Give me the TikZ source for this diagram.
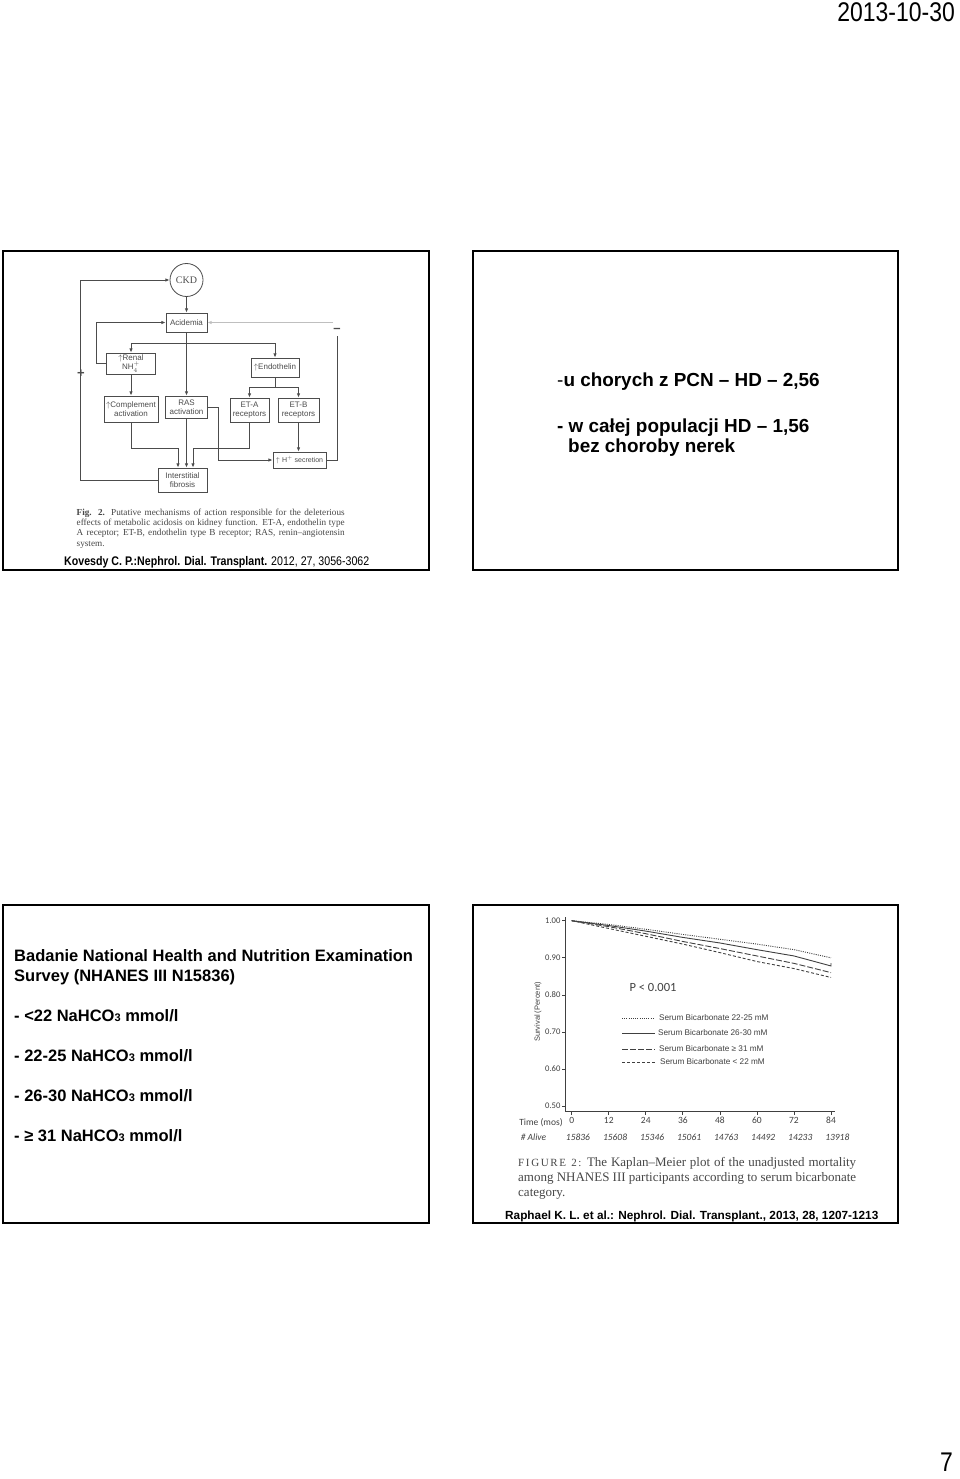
\documentclass[tikz,border=0pt]{standalone}
\usepackage{fontspec}
\setmainfont{Liberation Sans}
\newfontfamily\narrowfont[FakeStretch=0.85]{Liberation Sans}
\newfontfamily\serifcap{Liberation Serif}
\newfontfamily\spacedcaps[LetterSpace=15]{Liberation Serif}
\newfontfamily\chartfont{Carlito}
\usetikzlibrary{arrows.meta}
\definecolor{scan}{gray}{0.3}
\definecolor{faint}{gray}{0.75}
\definecolor{capgray}{gray}{0.28}
\definecolor{plotgray}{gray}{0.25}
\newcommand{\pxfont}[1]{\fontsize{#1}{#1}\selectfont}
\newcommand{\nahco}{NaHCO{\pxfont{11}3}}

\begin{document}
\begin{tikzpicture}[x=1pt,y=-1pt,>={Latex[length=4.2pt,width=3.4pt]},
  slide/.style={draw=black,line width=1.8pt},
  fbox/.style={draw=scan,line width=0.8pt,text=scan,font=\fontsize{8}{9}\selectfont,align=center,inner sep=0.5pt},
  flow/.style={draw=scan,line width=0.8pt},
  slidetext/.style={anchor=base west,inner sep=0pt,font=\bfseries\pxfont{18.9}},
  surveytext/.style={anchor=base west,inner sep=0pt,font=\bfseries\pxfont{16.5}},
  citation/.style={anchor=base west,inner sep=0pt,font=\narrowfont\bfseries\pxfont{12.5}},
  axis/.style={draw=plotgray,line width=0.7pt},
  ticklab/.style={font=\chartfont\pxfont{9.5},text=plotgray,inner sep=1.5pt},
  alivelab/.style={font=\chartfont\itshape\pxfont{9.5},text=plotgray,inner sep=1.5pt},
  curve/.style={draw=plotgray,line width=0.9pt},
  legend/.style={anchor=west,inner sep=0pt,font=\pxfont{8.2},text=plotgray}]
\useasboundingbox (0,0) rectangle (960,1479);
\fill[white] (0,0) rectangle (960,1479);

% page header and number
\node[anchor=base east,inner sep=0pt,font=\narrowfont\pxfont{27}] (date) at (955,22) {2013-10-30};
\node[anchor=base east,inner sep=0pt,font=\narrowfont\pxfont{27}] (pagenum) at (953,1471) {7};

% slide frames
\draw[slide] (3,251) rectangle (429,570);
\draw[slide] (473,251) rectangle (898,570);
\draw[slide] (3,905) rectangle (429,1223);
\draw[slide] (473,905) rectangle (898,1223);

% slide 1: mechanisms
\node[draw=scan,line width=0.8pt,circle,minimum size=33pt,inner sep=0pt,text=scan,font=\serifcap\pxfont{10}] (ckd) at (186.5,280) {CKD};
\node[fbox,minimum width=41pt,minimum height=19pt] (acid) at (186.5,322.5) {Acidemia};
\node[fbox,minimum width=49pt,minimum height=21pt] (renal) at (131,363.5) {$\uparrow$Renal\\NH$_4^+$};
\node[fbox,minimum width=48pt,minimum height=19pt] (endo) at (275,367.5) {$\uparrow$Endothelin};
\node[fbox,minimum width=54pt,minimum height=26pt] (compl) at (131,409) {$\uparrow$Complement\\activation};
\node[fbox,minimum width=42pt,minimum height=22pt] (ras) at (186.5,407) {RAS\\activation};
\node[fbox,minimum width=39pt,minimum height=24pt] (eta) at (249.5,410) {ET-A\\receptors};
\node[fbox,minimum width=41pt,minimum height=24pt] (etb) at (298.5,410) {ET-B\\receptors};
\node[fbox,minimum width=53pt,minimum height=16pt,font=\pxfont{7}] (hsec) at (299.5,460) {$\uparrow$ H$^+$ secretion};
\node[fbox,minimum width=49pt,minimum height=24pt] (fib) at (182.5,480) {Interstitial\\fibrosis};
\node[text=scan,font=\bfseries\pxfont{13}] (plus) at (81,374) {+};
\node[text=scan,font=\bfseries\pxfont{13}] (minus) at (337,330) {–};
\coordinate (split) at (186.5,343);
\coordinate (rtop) at (333,322.5);
\draw[flow,->] (fib.west) -- ++(-77,0) |- (ckd.west);
\draw[flow,->] (ckd) -- (acid);
\draw[flow,->] (renal.west) -- ++(-10,0) |- (acid.west);
\draw[flow,->] (acid) -- (ras);
\draw[flow,->] (split) -| (renal.north);
\draw[flow,->] (split) -| (endo.north);
\draw[flow,->] (renal) -- (compl);
\draw[flow] (endo.south) -- ++(0,10) coordinate (esplit);
\draw[flow,->] (esplit) -| (eta.north);
\draw[flow,->] (esplit) -| (etb.north);
\draw[flow,->] (etb.south) -- (etb.south |- hsec.north);
\draw[flow,->] (compl.south) -- ++(0,26) -| ([xshift=-4.5pt]fib.north);
\draw[flow,->] (ras.south) -- (ras.south |- fib.north);
\draw[flow,->] (eta.south) -- ++(0,26) -| ([xshift=10.5pt]fib.north);
\draw[flow,->] (ras.east) -- ++(10,0) |- (hsec.west);
\draw[flow] (hsec.east) -| (minus.south);
\draw[flow,faint,->] (rtop) -- (acid.east);
\node[anchor=north west,inner sep=0pt,align=left,text=capgray,font=\serifcap\fontsize{9.2}{10.4}\selectfont] (figcap) at (76.5,508.5)
  {\makebox[268pt][s]{\textbf{Fig. 2.} Putative mechanisms of action responsible for the deleterious}\\
   \makebox[268pt][s]{effects of metabolic acidosis on kidney function. ET-A, endothelin type}\\
   \makebox[268pt][s]{A receptor; ET-B, endothelin type B receptor; RAS, renin–angiotensin}\\
   system.};
\node[citation] (kovesdy) at (64,565) {Kovesdy C. P.:Nephrol. Dial. Transplant. {\mdseries 2012, 27, 3056-3062}};

% slide 2: ratios
\node[slidetext] (pcn) at (557,386) {{\mdseries -}u chorych z PCN -- HD -- 2,56};
\node[slidetext] (hd) at (557,432.5) {- w całej populacji HD -- 1,56};
\node[slidetext] (nerek) at (568,452) {bez choroby nerek};

% slide 3: NHANES groups
\node[surveytext] (badanie) at (14,961.7) {Badanie National Health and Nutrition Examination};
\node[surveytext] (survey) at (14,981.7) {Survey (NHANES III N15836)};
\node[surveytext] (grp1) at (14,1021.7) {- <22 \nahco\ mmol/l};
\node[surveytext] (grp2) at (14,1061.7) {- 22-25 \nahco\ mmol/l};
\node[surveytext] (grp3) at (14,1101) {- 26-30 \nahco\ mmol/l};
\node[surveytext] (grp4) at (14,1141) {- ≥ 31 \nahco\ mmol/l};

% slide 4: Kaplan-Meier plot
\begin{scope}[shift={(571.7,1291.7)},x=3.087pt,y=371pt]
\draw[axis] (-2.17,1.01) -- (-2.17,0.4852) -- (85.3,0.4852);
\foreach \s/\lab [count=\i] in {1.0/1.00,0.9/0.90,0.8/0.80,0.7/0.70,0.6/0.60,0.5/0.50}
  \draw[axis] (-2.17,\s) -- ++(-1.1,0) node[left,ticklab,font=\chartfont\pxfont{8.6},inner sep=0.8pt] (ytick\i) {\lab};
\foreach \m [count=\i] in {0,12,...,84}
  \draw[axis] (\m,0.4852) -- ++(0,-0.009) node[below,ticklab] (xtick\i) {\m};
\draw[curve,dash pattern=on 1pt off 1.2pt] plot coordinates {(0,1) (12,0.99) (24,0.977) (36,0.963) (48,0.95) (60,0.937) (72,0.922) (84,0.90)};
\draw[curve] plot coordinates {(0,1) (12,0.987) (24,0.972) (36,0.955) (48,0.94) (60,0.922) (72,0.905) (84,0.878) (84,0.886)};
\draw[curve,dash pattern=on 6pt off 2pt] plot coordinates {(0,1) (12,0.984) (24,0.965) (36,0.944) (48,0.925) (60,0.905) (72,0.885) (84,0.86)};
\draw[curve,dash pattern=on 3pt off 2pt] plot coordinates {(0,1) (12,0.979) (24,0.958) (36,0.937) (48,0.914) (60,0.89) (72,0.871) (84,0.847)};
\end{scope}
\node[font=\pxfont{7.5},text=plotgray,rotate=90] (ylabel) at (538,1012) {Survival (Percent)};
\node[font=\chartfont\pxfont{12.5},text=plotgray] (pval) at (653,987) {P < 0.001};
\node[legend] (leg1) at (659,1018) {Serum Bicarbonate 22-25 mM};
\node[legend] (leg2) at (658,1033) {Serum Bicarbonate 26-30 mM};
\node[legend] (leg3) at (659,1049) {Serum Bicarbonate ≥ 31 mM};
\node[legend] (leg4) at (660,1062) {Serum Bicarbonate < 22 mM};
\draw[curve,dash pattern=on 1pt off 1.2pt] ([xshift=-37pt]leg1.west) -- ([xshift=-4pt]leg1.west);
\draw[curve] ([xshift=-36pt]leg2.west) -- ([xshift=-3pt]leg2.west);
\draw[curve,dash pattern=on 6pt off 2pt] ([xshift=-37pt]leg3.west) -- ([xshift=-4pt]leg3.west);
\draw[curve,dash pattern=on 3pt off 2pt] ([xshift=-38pt]leg4.west) -- ([xshift=-5pt]leg4.west);
\node[ticklab] (time) at (541,1123) {Time (mos)};
\node[alivelab] (alive) at (533.5,1137) {\# Alive};
\foreach \m/\n [count=\i] in {0/15836,12/15608,24/15346,36/15061,48/14763,60/14492,72/14233,84/13918}
  \node[alivelab] (alive\i) at ({578+3.087*\m},1137) {\n};
\node[anchor=north west,inner sep=0pt,align=left,text=capgray,font=\serifcap\fontsize{13}{15}\selectfont] (kmcap) at (518,1157)
  {\makebox[338pt][s]{{\spacedcaps\pxfont{11}FIGURE 2:} The Kaplan–Meier plot of the unadjusted mortality}\\
   \makebox[338pt][s]{among NHANES III participants according to serum bicarbonate}\\
   category.};
\node[citation,font=\bfseries\pxfont{11.8}] (raphael) at (505,1219) {Raphael K. L. et al.: Nephrol. Dial. Transplant., 2013, 28, 1207-1213};
\end{tikzpicture}
\end{document}
